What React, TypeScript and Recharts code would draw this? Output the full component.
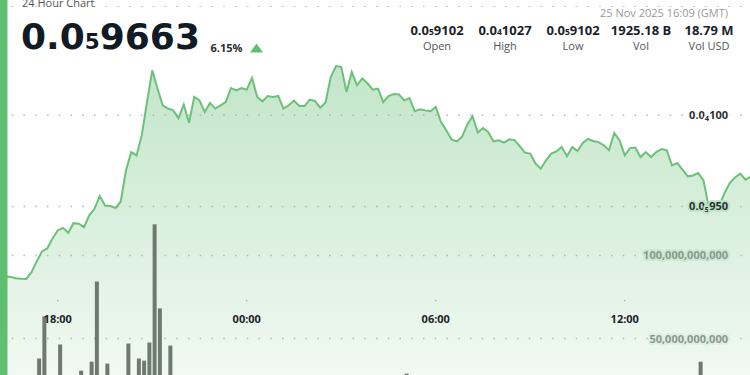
import React from 'react';
import { ComposedChart, Area, Bar, Line, XAxis, YAxis, CartesianGrid } from 'recharts';

// price in units of 1e-6, one point every 10 minutes from 24 Nov 2025 16:10 GMT
const priceE6 = [
  9.118, 9.117, 9.113, 9.106, 9.103, 9.102, 9.139, 9.198, 9.253, 9.269,
  9.324, 9.368, 9.382, 9.355, 9.408, 9.405, 9.386, 9.451, 9.487, 9.557,
  9.505, 9.502, 9.491, 9.527, 9.698, 9.798, 9.78, 9.89, 10.073, 10.247,
  10.147, 10.055, 10.037, 10.027, 9.985, 10.059, 9.959, 10.101, 10.082, 10.018,
  10.068, 10.037, 10.055, 10.073, 10.15, 10.137, 10.15, 10.141, 10.205, 10.101,
  10.077, 10.106, 10.101, 10.106, 10.037, 10.055, 10.081, 10.051, 10.051, 10.086,
  10.079, 10.042, 10.07, 10.21, 10.27, 10.266, 10.128, 10.238, 10.165, 10.202,
  10.176, 10.141, 10.146, 10.073, 10.106, 10.117, 10.115, 10.082, 10.095, 10.022,
  10.033, 10.027, 10.022, 10.046, 9.963, 9.918, 9.868, 9.857, 9.881, 9.949,
  9.995, 9.905, 9.93, 9.908, 9.857, 9.863, 9.85, 9.868, 9.864, 9.831,
  9.795, 9.79, 9.735, 9.707, 9.753, 9.79, 9.802, 9.826, 9.775, 9.826,
  9.804, 9.848, 9.87, 9.859, 9.853, 9.835, 9.808, 9.903, 9.863, 9.78,
  9.82, 9.823, 9.771, 9.798, 9.771, 9.798, 9.815, 9.808, 9.725, 9.738,
  9.702, 9.665, 9.67, 9.683, 9.643, 9.496, 9.496, 9.505, 9.573, 9.628,
  9.659, 9.68, 9.647, 9.663,
];

// volume in billions; null where the bar stays below the visible part
const volumeBn = [
  null, null, null, null, null, null, null, 38.0, 63.3, null,
  null, 46.4, null, null, null, 30.7, null, 36.1, 84.3, null,
  34.9, null, null, null, 47.0, null, 38.0, 36.7, 47.6, 118.7,
  68.1, null, 45.8, null, null, null, null, null, null, null,
  null, null, null, null, null, null, null, null, null, null,
  null, null, null, null, null, null, null, null, null, null,
  null, null, null, null, null, null, null, null, null, null,
  null, null, null, null, null, null, null, 28.9, null, null,
  null, null, null, null, null, null, null, null, null, null,
  null, null, null, null, null, null, null, null, null, null,
  null, null, null, null, null, null, null, null, null, null,
  null, null, null, null, null, null, null, null, null, null,
  null, null, null, null, null, null, null, null, null, null,
  null, null, null, 36.1, null, null, null, null, null, null,
  null, null, null, null,
];

const startClock = '16:10';
const stepMinutes = 10;
const timeTicks = ['18:00', '00:00', '06:00', '12:00'];
const priceTicks = [9.5, 10.0];
const volumeTicks = [50, 100];

const lastPrice = 9.663;
const changePct = '6.15%';
const updated = '25 Nov 2025 16:09 (GMT)';
const statLabels = ['Open', 'High', 'Low', 'Vol', 'Vol USD'];
const openPrice = 9.102;
const highPrice = 10.27;
const lowPrice = 9.102;
const volText = '1925.18 B';
const volUsdText = '18.79 M';

const GREEN = '#6cc17a';
const LABEL_RIGHT = 728; // right edge of the in-plot axis labels

// backdrop behind each axis label so the dotted grid does not run through it
const priceHalo: Record<number, string> = { 10: '#ffffff', 9.5: '#bde3c4' };
const volumeHalo: Record<number, string> = { 100: '#cae8cf', 50: '#ddf1e0' };

const toMinutes = (clock: string) => {
  const [h, m] = clock.split(':').map(Number);
  return h * 60 + m;
};
const sinceStart = (clock: string) => (toMinutes(clock) - toMinutes(startClock) + 1440) % 1440;

// 0.0000095 -> "0.0" + subscript 5 + "950"
const splitSmall = (pE6: number, sig: number) => {
  const exp = Math.floor(Math.log10(pE6) + 1e-9);
  return { zeros: 5 - exp, digits: String(Math.round(pE6 * Math.pow(10, sig - 1 - exp))) };
};

const rows = priceE6.map((p, i) => ({ t: i * stepMinutes, price: p, vol: volumeBn[i] }));

const PriceTick = (props: any) => {
  const { zeros, digits } = splitSmall(props.payload.value, 3);
  return (
    <text x={LABEL_RIGHT} y={props.y} dy={4} textAnchor="end" fontFamily="Open Sans" fontWeight={700} fontSize={11}
      fill="#2b2f36" stroke={priceHalo[props.payload.value]} strokeWidth={4} paintOrder="stroke" strokeLinejoin="round">
      0.0<tspan fontSize={7.5} dy={1.5}>{zeros}</tspan>
      <tspan dy={-1.5}>{digits}</tspan>
    </text>
  );
};

const VolumeTick = (props: any) => (
  <text x={LABEL_RIGHT} y={props.y} dy={4} textAnchor="end" fontFamily="Open Sans" fontWeight={700} fontSize={11}
    fill="#8e978f" stroke={volumeHalo[props.payload.value]} strokeWidth={4} paintOrder="stroke" strokeLinejoin="round">
    {(props.payload.value * 1e9).toLocaleString('en-US')}
  </text>
);

const TimeTick = (props: any) => {
  const label = timeTicks.find((c) => sinceStart(c) === props.payload.value);
  return (
    <g>
      <rect x={props.x - 0.6} y={props.y} width={1.2} height={1.2} fill="#999" />
      <text x={props.x} y={props.y + 23} textAnchor="middle" fontFamily="Open Sans" fontWeight={700} fontSize={11} fill="#1f232a">
        {label}
      </text>
    </g>
  );
};

// bars start at their timestamp rather than being centred on it
const VolumeBar = (props: any) => {
  if (props.value == null || !props.height) return null;
  return <rect x={props.x + props.width / 2} y={props.y} width={props.width} height={props.height} fill="#6e7a70" />;
};

const SmallPrice = ({ x, y, p, sig, size, subSize, anchor, color }: any) => {
  const { zeros, digits } = splitSmall(p, sig);
  return (
    <text x={x} y={y} textAnchor={anchor} fontWeight={700} fontSize={size} fill={color}>
      0.0<tspan fontSize={subSize}>{zeros}</tspan>
      {digits}
    </text>
  );
};

export default function App() {
  const big = splitSmall(lastPrice, 4);
  const statX = (i: number) => 437 + i * 68;
  return (
    <div style={{ position: 'absolute', left: 0, top: 0, width: 750, height: 375, overflow: 'hidden', background: '#fff', fontFamily: 'Open Sans' }}>
      <div style={{ position: 'absolute', left: 0, top: 6 }}>
        <ComposedChart width={756} height={419} data={rows} margin={{ top: 0, right: 0, bottom: 0, left: 0 }}>
          <defs>
            <linearGradient id="priceFill" x1="0" y1="0" x2="0" y2="1">
              <stop offset="0%" stopColor={GREEN} stopOpacity={0.68} />
              <stop offset="100%" stopColor={GREEN} stopOpacity={0.08} />
            </linearGradient>
          </defs>
          <XAxis dataKey="t" type="number" domain={[0, 1440]} hide />
          <YAxis yAxisId="price" orientation="right" mirror width={40} domain={[8.3, 10.6]} ticks={priceTicks}
            axisLine={false} tickLine={false} tick={<PriceTick />} />
          <YAxis yAxisId="vol" orientation="right" mirror width={40} domain={[-2, 250]} ticks={volumeTicks}
            axisLine={false} tickLine={false} tick={<VolumeTick />} />
          <CartesianGrid yAxisId="price" vertical={false} stroke="#b8b8b8" strokeWidth={1.5} strokeDasharray="1.5 10.25" />
          <CartesianGrid yAxisId="vol" vertical={false} stroke="#b8b8b8" strokeWidth={1.5} strokeDasharray="1.5 10.25" />
          <Area yAxisId="price" type="linear" dataKey="price" stroke={GREEN} strokeWidth={2} fill="url(#priceFill)"
            isAnimationActive={false} dot={false} activeDot={false} />
          <Bar yAxisId="vol" dataKey="vol" barSize={4} fill="#6e7a70" shape={<VolumeBar />} isAnimationActive={false} />
        </ComposedChart>
      </div>
      <div style={{ position: 'absolute', left: 0, top: 0 }}>
        <ComposedChart width={756} height={330} data={rows} margin={{ top: 0, right: 0, bottom: 0, left: 0 }}>
          <XAxis dataKey="t" type="number" domain={[0, 1440]} ticks={timeTicks.map(sinceStart)} height={30}
            axisLine={false} tickLine={false} tickSize={0} tickMargin={0} tick={<TimeTick />} />
          <YAxis hide domain={[8.3, 10.6]} />
          <Line dataKey="price" stroke="none" dot={false} activeDot={false} isAnimationActive={false} />
        </ComposedChart>
      </div>
      <svg width={750} height={375} style={{ position: 'absolute', left: 0, top: 0, pointerEvents: 'none' }} fontFamily="Open Sans">
        <rect x={0} y={0} width={7.5} height={375} fill="#5fbf6f" />
        <text x={22} y={7} fontSize={11} fill="#555">24 Hour Chart</text>
        <text x={21} y={48.5} fontFamily="DejaVu Sans" fontWeight={700} fontSize={36} fill="#111b25">
          0.0<tspan fontSize={21.5}>{big.zeros}</tspan>
          {big.digits}
        </text>
        <text x={210.5} y={51.5} fontSize={11} fontWeight={700} fill="#2c2c2c">{changePct}</text>
        <polygon points="250,52.5 263,52.5 256.5,43.5" fill="#5fbf6f" />
        <text x={728} y={17} textAnchor="end" fontSize={11} fill="#9a9a9a">{updated}</text>
        <SmallPrice x={statX(0)} y={35} p={openPrice} sig={4} size={13} subSize={8.5} anchor="middle" color="#1a1f2b" />
        <SmallPrice x={statX(1)} y={35} p={highPrice} sig={4} size={13} subSize={8.5} anchor="middle" color="#1a1f2b" />
        <SmallPrice x={statX(2)} y={35} p={lowPrice} sig={4} size={13} subSize={8.5} anchor="middle" color="#1a1f2b" />
        <text x={statX(3)} y={35} textAnchor="middle" fontSize={13} fontWeight={700} fill="#1a1f2b">{volText}</text>
        <text x={statX(4)} y={35} textAnchor="middle" fontSize={13} fontWeight={700} fill="#1a1f2b">{volUsdText}</text>
        {statLabels.map((l, i) => (
          <text key={l} x={statX(i)} y={50} textAnchor="middle" fontSize={11} fill="#555">{l}</text>
        ))}
      </svg>
    </div>
  );
}
